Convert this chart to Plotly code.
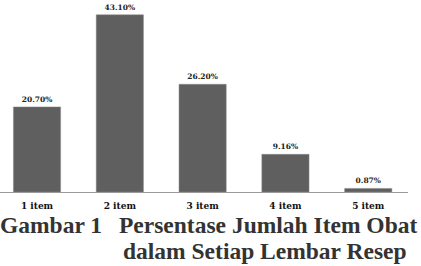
import plotly.graph_objects as go

categories = ["1 item", "2 item", "3 item", "4 item", "5 item"]
values = [20.70, 43.10, 26.20, 9.16, 0.87]
value_labels = ["20.70%", "43.10%", "26.20%", "9.16%", "0.87%"]
title_lines = ["Gambar 1", "Persentase Jumlah Item Obat", "dalam Setiap Lembar Resep"]

x_idx = list(range(len(categories)))

fig = go.Figure(go.Bar(
    x=x_idx, y=values,
    text=["<b>%s</b>" % t for t in value_labels], textposition="outside", cliponaxis=False,
    textfont=dict(family="DejaVu Serif", size=7.5, color="#222222"),
    marker=dict(color="#5f5f5f", line=dict(color="#8a8a8a", width=0.5)),
    width=0.57,
))

fig.update_layout(
    width=421, height=266,
    margin=dict(l=0, r=13, t=0, b=74),
    paper_bgcolor="white", plot_bgcolor="white",
    showlegend=False,
    xaxis=dict(
        range=[-0.447, 4.48], tickvals=x_idx, ticktext=["<b>%s</b>" % c for c in categories],
        showline=True, linecolor="#9a9a9a", linewidth=1,
        ticks="outside", ticklen=5, tickcolor="rgba(0,0,0,0)",
        tickfont=dict(family="DejaVu Serif", size=9, color="#111111"),
        showgrid=False, zeroline=False,
    ),
    yaxis=dict(range=[0, 46.7], visible=False, showgrid=False, zeroline=False),
    font=dict(family="DejaVu Serif"),
)

tfont = dict(family="Liberation Serif", size=23.5, color="#333333")
fig.add_annotation(text="<b>%s</b>" % title_lines[0], xref="paper", yref="paper",
                   x=-0.006, y=(192 - 225) / 192, xanchor="left", yanchor="middle",
                   showarrow=False, font=tfont)
fig.add_annotation(text="<b>%s</b>" % title_lines[1], xref="paper", yref="paper",
                   x=419 / 408, y=(192 - 225) / 192, xanchor="right", yanchor="middle",
                   showarrow=False, font=tfont)
fig.add_annotation(text="<b>%s</b>" % title_lines[2], xref="paper", yref="paper",
                   x=409 / 408, y=(192 - 251) / 192, xanchor="right", yanchor="middle",
                   showarrow=False, font=tfont)

fig.write_html("out.html")
